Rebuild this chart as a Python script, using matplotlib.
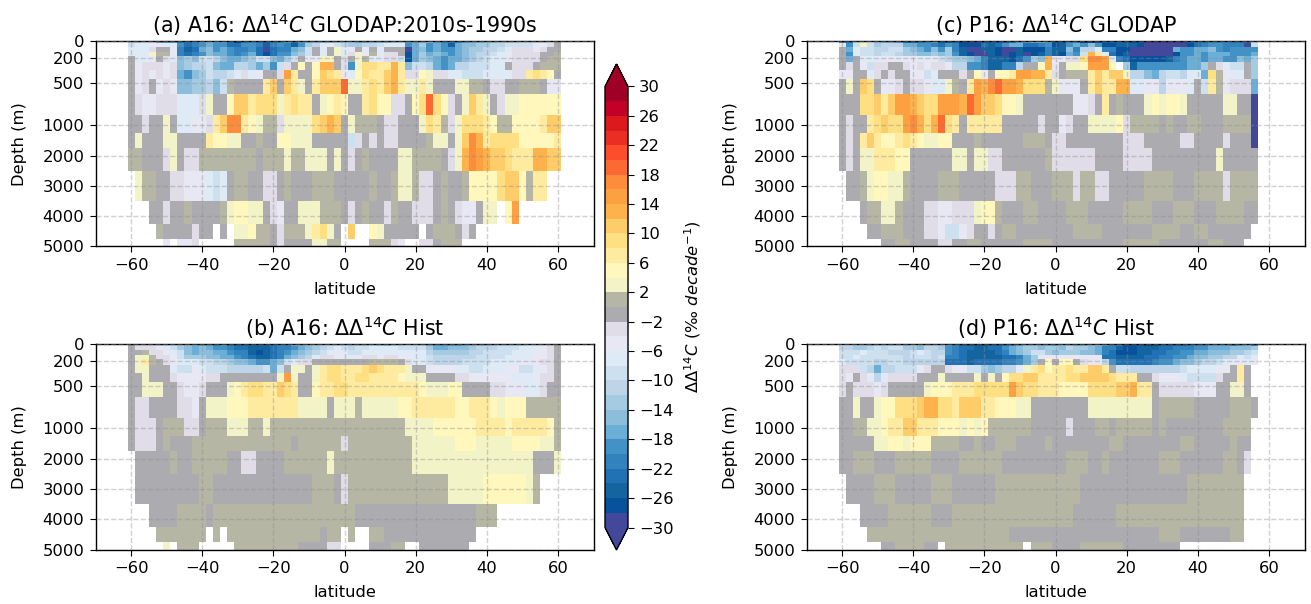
import numpy as np
import matplotlib
matplotlib.use("Agg")
import matplotlib.pyplot as plt
from matplotlib.colors import ListedColormap, BoundaryNorm

# depth bin edges (m) and latitude bin edges, 2 degree cells
depth_edges = [0, 25, 75, 125, 175, 250, 350, 450, 625, 875, 1250, 1750, 2500, 3500, 4250, 4750, 5000]
lat_edges = list(range(-61, 62, 2))

# one letter per cell = one colour class of the trend, see code_values. "." is no data
codes = "ABCDEFGHIJKLMNopqrstuvwxyz"
code_values = [-29, -27, -25, -23, -21, -19, -17, -15, -13, -11, -9, -7, -5, -3,
               -1, 1, 3, 5, 7, 9, 11, 13, 15, 17, 19, 21]

a16_glodap = [
    "JJKKGGGEEF GHGGEBEFED EFGEGHIIIJ JJHHIIIJKG GHIGFFFGHH IIJJJKKKKLo",
    "KLLMMLLFDE FGFFDDFFEC EFECFIJLMK JIIJJKLLLF GIFGFCGHHI IJJKKKKLMNo",
    "LLLNooMECD GHFGFEEFDA DEEGHKoLoq LMoMoLoooA GHFGFFGHII JJKLNNNMNoo",
    "LLLqppMEDE FHGGFEFGDB DFFHIKoLoq LNqMpLNNoB GIGHGFGHIJ JKLMNNNNoop",
    "oLLMoNLHIH KKJHGGHIKK HGIKoMMqqo NoqpLMNNKB GIHGFGGHIJ KLLMNNNNopp",
    "oMNNNMNHIJ JKHGGJJIGI FKNororvvo NFqttssvsH KKJGFGJJKK KLLoNNNoppp",
    "oMNMNMNGFH IKJJKLNLMo oNwsooruts MLrtssuvsN NrqNNLLKKK LLLLNNstsro",
    "oMNoMNMHHI IJHKpoooos uousqosuuu yqqstsuvsq qsqoooqqpp oNNoopppoMM",
    "oNMMNNNLLL Nqooruustt tqstssoqrs roostrrNNo rtytrNoqus qoNqqrrrrrr",
    "ooNooqoLLM MNsuxxsrqp pNqqqqtuvu oqpppoNNoo oqtspNqttt srpprrrrsuu",
    "oqoooqqooo osrrqqoopo orrqqqoooo oKNoNoNNoo oopqqoquxv sttttrrrrrs",
    "ppoooNqoNN ppppppppop ppqppqqqoq oNopooooqq ppppoNqvxw vuutsssvvuu",
    ".qppooNNMM MLKLoppooN Nopooopppo oooopoopqq pNNopooprr rrtuurpss..",
    "...ooNoopo ooopqrrqqo NMooqqqppp oNopooNpoo NNNopoNMMo qq.rw......",
    "....pooooN oo.o.qqrpp oNpppqstqo .u..rqoooo o.opppoNo. ...........",
    ".....M.MMN .....ppppp oNooooqqpp ....pppNM. .NNoppp... ...........",
]

a16_hist = [
    "oNNNKKKJIH GGFGEDDDDD EFFHHIJKKK KJJJKJIKKL KKHGGGGHII IJKKKKLLMNo",
    "oNNNMLKIHG HGFFEDDCCC DEEFGHIJKL KJKKLLLLKK KKIGGHHHIJ JJKKKLLLMNo",
    "oopNNMLKHG HHGGFEECBC DEFGHIJKLM LKKLLLLLLL LLJIIIIIJJ KKKKLLLMMNo",
    "oqqpNNMKII IHHGGFEDCC DEGHIJLNNM MLMNNMNNMM LLKJJJJJJK KKKLLLLMMNo",
    "oqspoNMLLL KKJJIHHGFF GHKLNNoooo ooooppppoN LLKJJJJKKK KLLLLMMMNNo",
    "oqqoooLKKM LKKKJJJJJK GKoqqoqstt ssstutsssq ooMMMMLLKK LLLMMKKLMNo",
    "ooqoooNMMM MNNooooooo oqwqooqstt ssttssssrq qqooooNNMM MMMMLLLMNNo",
    "ooqqqooNMM Noooqrstts sutsoorsst tsssssssss srqqqrrooo oNNMMMLLNoo",
    "oNNooooNNM oqqqrrrsss ssssqqqqoq qqpqqqqqrr ssssssrrss srqrrrppppp",
    "oNNNopppNN opppqqqppq pppppppppp pppppppppq qqqrrrrrrs sssrsssssrp",
    "oNNNopooop pppppppppp pppopppppp Nppppppppp qqqqqqrrrq qqqqrrrrqqp",
    ".ooooopoop ppppooNNoo ooppppppqp pppppppppp qqqqqqqqqq qqqqqqqoooq",
    ".ooooooooo ppoooooooo oooooopppo Nppppppppp pppppqqqqq rrrrrrqp...",
    "...ooooppp popppppppp pppppppppp ppoooooooo ooooooooop pp.........",
    "....pppppp p.p.pppppp pppppppopp .p..ppoooo ooooooooo. ...........",
    ".....q.ppp .....ppppp ppppooooNN ....ooopp. .ooooooo.. ...........",
]

p16_glodap = [
    "FEKLLIHHGD DEFGCCDBAA CDCDEGGHHG CCFFBBCDDD CBCAAAAAAD EEFFFEEEK..",
    "LFKqKIJJJG GFFEDFEBBB DCDFGGDDEF BCFGFHFBBC CCBAAAAAAB DEFFEEEAK..",
    "oGLKKJJKKI HGFHFIECAA CCBAACBBBE CCHEJJLEEB BAAAAAAGFF GGHFEFFFF..",
    "oFLKKJKKJI IHHIHIFCBA ACBABCABCE CBGFKvsLDB CAAAAAABFF GFGGGFFFG..",
    "oGoLLLMMLM MLLMKJIIHG ECCCBDFIHv MMNNtxxwLE DBBBBBCEFG GFGGFFHGI..",
    "oNoMKNNooN MNMNNMJJFF ECCEEJoorv MoqqrwwwrQ ICFFFFFFFG GIoNLKKoI..",
    "MMooLNoNoo MMKLoooNor Morrswwvvs Nopppsusuu qJJHGJKKJL LGtpMLLoI..",
    "oqoutoMMNo NNMLLqposw vxywwvtttp qMMMosussv vLLMMJMMML oKspMNNNG..",
    "ooottusuww vuttwwwvyw uutrrqoooo oooMMNosop oooqrqrrqo ooooqqooA..",
    "oNoostuttw xvtvytsoss sssoooooNo oMNooqqqqr Nppppopoop poooppppA..",
    "oNosusrrst srqqrrooop oooooopppo NNoooooooo NNNoooooNN ooooNoooA..",
    "oNoqqsssrr ooooooqqoq qNNoooooop NNNNNNoooo NNNNoooooo oooqooooo..",
    ".oopqrrqqp oooopppooo ooNNNppooo pppNppNNoo oooppppooo ppppNpppp..",
    "...oppqqpo ooNNMMNNNq rrpoooppoo oopppooooo ppppoooppp oooppppoo..",
    "....oopppo ooNNMKKMNo oNoppooooo oooppppooo ooooppppoo ppoooooo...",
    "......oopp ooooNNoopp oooooopppp oooooooooo pppppooooo ooppooo....",
]

p16_hist = [
    "LLJJIJJJJI JIJJJGFDCC CDDEFGIIHH GIIHHIIGFF CCCBBDDDDE FFGGGFGHF..",
    "JJIIJKJKKI IHJJIFEDDC CDDFGHIIHI IHJIIHGEEC BBCCCDDEEE FFGGGHHHI..",
    "KKKLKKKJJJ KLKJJFEDCC CCDEGHIKKI HIIIHHGEDB BBCCDDEEFF GGHHHIIJK..",
    "KKLKKKKKKJ KKKJKEEDCC CCCDDEGILM MMMMMMMDDC CCCDDEEFFG HHIIJJLKL..",
    "LKKKKJJKKJ JJJJJDDDCD DDDEEFGIor orroNMMJFD DDDDEFFGHH IJJKLMMLM..",
    "NNNKJGJJKK KMNooNMMKK IHIJJMqstr sstssuusoK KJJJJJJJKL LLLMMoso...",
    "NMoNLJLNNN Noooqooooq oqorttuuss ssttuuuuts ssooNMMMLK KKKNooso...",
    "NoNNNMNooo ooqrrrssst ttttwuttss srrrrttttu uvssoNNNNN MMMooqqo...",
    "ooqooqrrtt tuvvttsuuu ssrrrqqooo oooooqqqqq qqqqoppppp ooooopppo..",
    "ooppqqrssu usssrrrqrq rppppppooo ooNoooppop ppppopoooo oooopppp...",
    "oooooqqrrq rrrppppoop oopppoooop oooooooopp oooooooopp ooooopoo...",
    "oopppooopp pppooooppp pppooooooo oopppoopoo ooooopppoo ooooppoN...",
    ".oooopppoo ooopppoooo oopppppppp ppppoooooo ooooooooop ppppppp....",
    "...ooooppp pppooopppp pppppppppp pppoooooop pppppppppp ppppppp....",
    "....pppppp pppppppppp ppppoooooo oooooooooo ooooopppoo ooooopp....",
    "......oopp ppoo.ppppp pppppp.ppp oooopppppp oooooooo.. ...........",
]

# colour classes from -30 to 30, step 2
bin_colors = ["#43489b", "#08519c", "#14649f", "#2171b5", "#3282be", "#4292c6", "#6baed6", "#8cbedc",
              "#a5cbe2", "#bed4e9", "#cde0f0", "#deebf7", "#e8e8f5", "#e0dce8", "#acacb0", "#b6b6a5",
              "#f3f3c8", "#fff7bc", "#feeba0", "#fee082", "#fecc69", "#feb24c", "#fda041", "#fd8d3c",
              "#fc6932", "#fc4e2a", "#eb2d23", "#dc191e", "#c30028", "#a00026"]
levels = list(range(-30, 31, 2))
cbar_ticks = list(range(-30, 31, 4))
depth_ticks = [0, 200, 500, 1000, 2000, 3000, 4000, 5000]
lat_ticks = [-60, -40, -20, 0, 20, 40, 60]


def decode(rows):
    out = []
    for r in rows:
        r = r.replace(" ", "")
        r = (r + "." * 61)[:61]
        out.append([code_values[codes.index(c)] if c in codes else np.nan for c in r])
    return np.ma.masked_invalid(np.array(out, dtype=float))


def depth_fwd(d):
    d = np.asarray(d, dtype=float)
    return np.where(d <= 1000, d, 1000 + (d - 1000) * 0.36)


def depth_inv(y):
    y = np.asarray(y, dtype=float)
    return np.where(y <= 1000, y, 1000 + (y - 1000) / 0.36)


plt.rcParams["font.size"] = 11.8
plt.rcParams["mathtext.default"] = "it"
plt.rcParams["xtick.major.size"] = 4.5
plt.rcParams["ytick.major.size"] = 4.5
plt.rcParams["axes.linewidth"] = 1.0
W, H = 1311, 604
fig = plt.figure(figsize=(W / 100, H / 100), dpi=100)

cmap = ListedColormap(bin_colors)
cmap.set_over(bin_colors[-1])
cmap.set_under(bin_colors[0])
norm = BoundaryNorm(levels, cmap.N)

panels = [
    (a16_glodap, r"(a) A16: $\Delta\Delta^{14}C$ GLODAP:2010s-1990s", 95.5, 41),
    (a16_hist, r"(b) A16: $\Delta\Delta^{14}C$ Hist", 95.5, 344),
    (p16_glodap, r"(c) P16: $\Delta\Delta^{14}C$ GLODAP", 806.5, 41),
    (p16_hist, r"(d) P16: $\Delta\Delta^{14}C$ Hist", 806.5, 344),
]
for rows, title, left, top in panels:
    ax = fig.add_axes([left / W, 1 - (top + 205.5) / H, 498 / W, 205.5 / H])
    pc = ax.pcolormesh(lat_edges, depth_edges, decode(rows), cmap=cmap, norm=norm, antialiased=False, linewidth=0)
    ax.set_yscale("function", functions=(depth_fwd, depth_inv))
    ax.set_ylim(5000, 0)
    ax.set_xlim(-70, 70)
    ax.set_yticks(depth_ticks)
    ax.set_yticklabels([str(d) for d in depth_ticks])
    ax.minorticks_off()
    ax.set_xticks(lat_ticks)
    ax.set_xlabel("latitude", labelpad=7)
    ax.set_ylabel("Depth (m)", labelpad=11)
    ax.set_title(title, fontsize=14.9, pad=6)
    ax.grid(True, linestyle="--", color="#8c8c8c", alpha=0.4, linewidth=1)
    ax.set_axisbelow(False)

cax = fig.add_axes([605 / W, 1 - 550 / H, 23 / W, 486 / H])
cb = fig.colorbar(pc, cax=cax, extend="both", ticks=cbar_ticks, extendfrac=22.5 / 441, spacing="proportional")
cb.set_label(r"$\Delta\Delta^{14}C$ (‰ $decade^{-1}$)", labelpad=6)
cb.ax.minorticks_off()

fig.savefig("out.png", dpi=100)
